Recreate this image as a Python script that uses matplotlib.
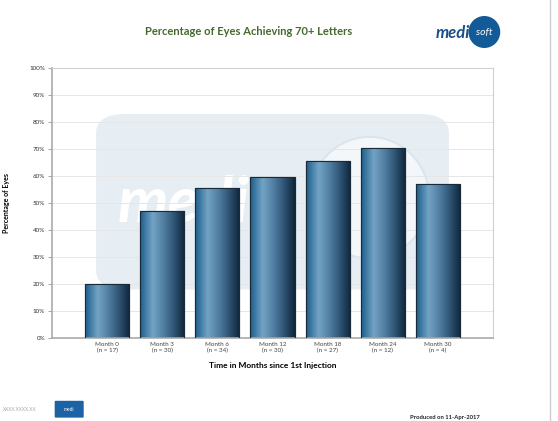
import matplotlib.pyplot as plt
import numpy as np
from matplotlib.patches import FancyBboxPatch, Ellipse

months = ['Month 0', 'Month 3', 'Month 6', 'Month 12', 'Month 18', 'Month 24', 'Month 30']
n_eyes = [17, 30, 34, 30, 27, 12, 4]
pct_70 = [20, 47, 55.5, 59.5, 65.5, 70.5, 57]
yticks = list(range(0, 101, 10))

plt.rcParams['font.family'] = ['Lato', 'DejaVu Sans']

fig = plt.figure(figsize=(5.58, 4.21), dpi=100)
ax = fig.add_axes([0.0932, 0.197, 0.7903, 0.6415])

# faint watermark behind the bars
wm = FancyBboxPatch((0.1, 0.18), 0.8, 0.65, boxstyle='round,pad=0,rounding_size=0.07',
                    transform=ax.transAxes, facecolor='#e6edf3', edgecolor='none', zorder=0)
ax.add_patch(wm)
ax.add_patch(Ellipse((0.72, 0.52), 0.27, 0.45, transform=ax.transAxes,
                     facecolor='#f4f7fa', edgecolor='#dbe5ee', linewidth=1.5, zorder=0.3))
ax.text(0.15, 0.5, 'medi', transform=ax.transAxes, fontsize=46, fontweight='bold',
        style='italic', color='white', va='center', ha='left', zorder=0.5)

x = np.arange(len(months))
bars = ax.bar(x, pct_70, width=0.8, color='#2c6a92', edgecolor='#1a2a38', linewidth=0.8, zorder=2)

# cylinder-like horizontal gradient on each bar
cols = np.array([[0.11, 0.37, 0.55], [0.45, 0.64, 0.77], [0.30, 0.48, 0.62],
                 [0.16, 0.30, 0.42], [0.06, 0.15, 0.23]])
pos = np.array([0.0, 0.28, 0.55, 0.8, 1.0])
t = np.linspace(0, 1, 64)
grad = np.stack([np.interp(t, pos, cols[:, i]) for i in range(3)], axis=-1)[None, :, :]
for b in bars:
    im = ax.imshow(grad, extent=[b.get_x(), b.get_x() + b.get_width(), 0, b.get_height()],
                   aspect='auto', zorder=2.5, interpolation='bilinear')
    im.set_clip_path(b)
    ax.bar(b.get_x() + b.get_width() / 2, b.get_height(), width=b.get_width(),
           facecolor='none', edgecolor='#1a2a38', linewidth=0.8, zorder=3)

ax.set_xlim(-1, 7)
ax.set_ylim(0, 100)
ax.set_yticks(yticks)
ax.set_yticklabels([f'{v}%' for v in yticks], fontsize=4.5, color='#333333')
ax.set_xticks(x)
ax.set_xticklabels([f'{m}\n(n = {n})' for m, n in zip(months, n_eyes)], fontsize=4.5, color='#444444')
ax.tick_params(axis='y', length=3, width=0.6, color='#999999', pad=2)
ax.tick_params(axis='x', length=0, pad=3)
ax.yaxis.grid(True, color='#e6e6e6', linewidth=0.7, zorder=1)
ax.set_axisbelow(True)
for side in ['left', 'bottom']:
    ax.spines[side].set_color('#aaaaaa')
    ax.spines[side].set_linewidth(1.2)
for side in ['top', 'right']:
    ax.spines[side].set_color('#d0d0d0')
    ax.spines[side].set_linewidth(0.8)

ax.set_ylabel('Percentage of Eyes', fontsize=5, fontweight='bold', labelpad=14)
ax.set_xlabel('Time in Months since 1st Injection', fontsize=6, fontweight='bold', labelpad=6)

fig.text(0.445, 0.925, 'Percentage of Eyes Achieving 70+ Letters', fontsize=8, fontweight='bold',
         color='#466a2e', ha='center', va='center')

# medisoft logo, top right
fig.text(0.842, 0.922, 'medi', fontsize=12, fontweight='bold', style='italic',
         color='#1b4f86', ha='right', va='center')
fig.patches.append(Ellipse((0.868, 0.924), 0.057, 0.076, transform=fig.transFigure,
                           facecolor='#135a98', edgecolor='none'))
fig.text(0.868, 0.922, 'soft', fontsize=7.5, style='italic', color='white', ha='center', va='center')

# footer
fig.text(0.005, 0.028, 'XXXX.XXXX.XX', fontsize=3.5, color='#aaaaaa', ha='left', va='center')
fig.patches.append(FancyBboxPatch((0.1, 0.01), 0.048, 0.036, boxstyle='round,pad=0.002',
                                  transform=fig.transFigure, facecolor='#1c63a6', edgecolor='none'))
fig.text(0.124, 0.028, 'medi', fontsize=3.5, color='white', ha='center', va='center')
fig.text(0.735, 0.008, 'Produced on 11-Apr-2017', fontsize=4.2, fontweight='bold', color='#222222',
         ha='left', va='center')

# page edge on the right
fig.add_artist(plt.Line2D([0.985, 0.985], [0.0, 1.0], transform=fig.transFigure,
                          color='#cccccc', linewidth=1.0))

fig.savefig('out.png', dpi=100)
